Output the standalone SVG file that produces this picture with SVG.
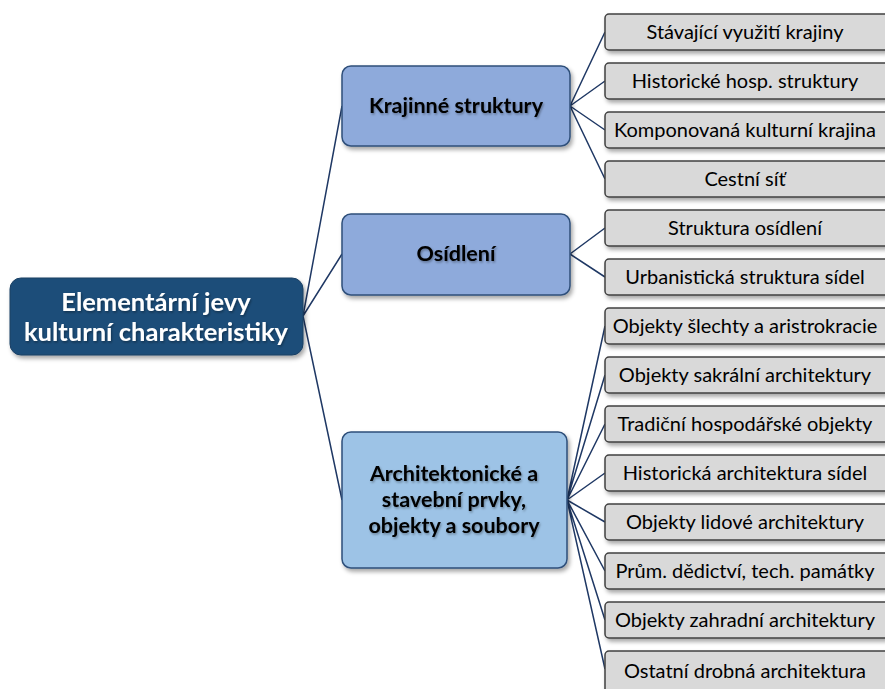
<svg xmlns="http://www.w3.org/2000/svg" width="885" height="689" viewBox="0 0 885 689">
<defs>
<filter id="sh" x="-10%" y="-10%" width="130%" height="140%">
<feDropShadow dx="2" dy="3" stdDeviation="2" flood-color="#000" flood-opacity="0.35"/>
</filter>
<filter id="ts" x="-5%" y="-20%" width="110%" height="150%">
<feDropShadow dx="1" dy="1.5" stdDeviation="0.8" flood-color="#000" flood-opacity="0.35"/>
</filter>
<style>
.root{fill:#1f4e79;stroke:#1a3f63;stroke-width:1}
.mid1{fill:#8eaadb;stroke:#2f4f7a;stroke-width:1.5}
.mid2{fill:#9dc3e6;stroke:#2f4f7a;stroke-width:1.5}
.leaf{fill:#d9d9d9;stroke:#404040;stroke-width:1.5}
.t{font-family:Lato,"Liberation Sans",Arial,sans-serif;text-anchor:middle;dominant-baseline:central}
.tr{fill:#fff;font-weight:bold;font-size:25.5px}
.tm{fill:#000;font-weight:bold;font-size:21.5px}
.tl{fill:#000;font-size:20px}
.c{stroke:#1f3864;stroke-width:1.5;fill:none}
</style>
</defs>
<rect width="885" height="689" fill="#fff"/>
<g id="connectors">
<path class="c" d="M303 316L342 106M303 316L342 254M303 316L342 500"/>
<path class="c" d="M570 106L605 32M570 106L605 81M570 106L605 130M570 106L605 179"/>
<path class="c" d="M570 254L605 228M570 254L605 277"/>
<path class="c" d="M567 500L605 326M567 500L605 375M567 500L605 424M567 500L605 473M567 500L605 522M567 500L605 571M567 500L605 620M567 500L605 669"/>
</g>
<g id="root">
<rect class="root" x="10" y="278" width="293" height="77" rx="11" filter="url(#sh)"/>
<text class="t tr" x="156" y="301" filter="url(#ts)">Elementární jevy</text>
<text class="t tr" x="156" y="331" filter="url(#ts)">kulturní charakteristiky</text>
</g>
<g id="krajinne">
<rect class="mid1" x="342" y="66" width="228" height="80" rx="9" filter="url(#sh)"/>
<text class="t tm" x="456" y="105" filter="url(#ts)">Krajinné struktury</text>
</g>
<g id="osidleni">
<rect class="mid1" x="342" y="214" width="228" height="81" rx="9" filter="url(#sh)"/>
<text class="t tm" x="456" y="253" filter="url(#ts)">Osídlení</text>
</g>
<g id="architektonicke">
<rect class="mid2" x="342" y="432" width="225" height="136" rx="9" filter="url(#sh)"/>
<text class="t tm" x="454" y="473" filter="url(#ts)">Architektonické a</text>
<text class="t tm" x="454" y="499" filter="url(#ts)">stavební prvky,</text>
<text class="t tm" x="454" y="525" filter="url(#ts)">objekty a soubory</text>
</g>
<g id="leaf1"><rect class="leaf" x="605" y="14" width="285" height="36" rx="4" filter="url(#sh)"/><text class="t tl" x="745" y="31">Stávající využití krajiny</text></g>
<g id="leaf2"><rect class="leaf" x="605" y="63" width="285" height="36" rx="4" filter="url(#sh)"/><text class="t tl" x="745" y="80">Historické hosp. struktury</text></g>
<g id="leaf3"><rect class="leaf" x="605" y="112" width="285" height="36" rx="4" filter="url(#sh)"/><text class="t tl" x="745" y="129">Komponovaná kulturní krajina</text></g>
<g id="leaf4"><rect class="leaf" x="605" y="161" width="285" height="36" rx="4" filter="url(#sh)"/><text class="t tl" x="745" y="178">Cestní síť</text></g>
<g id="leaf5"><rect class="leaf" x="605" y="210" width="285" height="36" rx="4" filter="url(#sh)"/><text class="t tl" x="745" y="227">Struktura osídlení</text></g>
<g id="leaf6"><rect class="leaf" x="605" y="259" width="285" height="36" rx="4" filter="url(#sh)"/><text class="t tl" x="745" y="276">Urbanistická struktura sídel</text></g>
<g id="leaf7"><rect class="leaf" x="605" y="308" width="285" height="36" rx="4" filter="url(#sh)"/><text class="t tl" x="745" y="325">Objekty šlechty a aristrokracie</text></g>
<g id="leaf8"><rect class="leaf" x="605" y="357" width="285" height="36" rx="4" filter="url(#sh)"/><text class="t tl" x="745" y="374">Objekty sakrální architektury</text></g>
<g id="leaf9"><rect class="leaf" x="605" y="406" width="285" height="36" rx="4" filter="url(#sh)"/><text class="t tl" x="745" y="423">Tradiční hospodářské objekty</text></g>
<g id="leaf10"><rect class="leaf" x="605" y="455" width="285" height="36" rx="4" filter="url(#sh)"/><text class="t tl" x="745" y="472">Historická architektura sídel</text></g>
<g id="leaf11"><rect class="leaf" x="605" y="504" width="285" height="36" rx="4" filter="url(#sh)"/><text class="t tl" x="745" y="521">Objekty lidové architektury</text></g>
<g id="leaf12"><rect class="leaf" x="605" y="553" width="285" height="36" rx="4" filter="url(#sh)"/><text class="t tl" x="745" y="570">Prům. dědictví, tech. památky</text></g>
<g id="leaf13"><rect class="leaf" x="605" y="602" width="285" height="36" rx="4" filter="url(#sh)"/><text class="t tl" x="745" y="619">Objekty zahradní architektury</text></g>
<g id="leaf14"><rect class="leaf" x="605" y="651" width="285" height="46" rx="4" filter="url(#sh)"/><text class="t tl" x="745" y="670">Ostatní drobná architektura</text></g>
</svg>
